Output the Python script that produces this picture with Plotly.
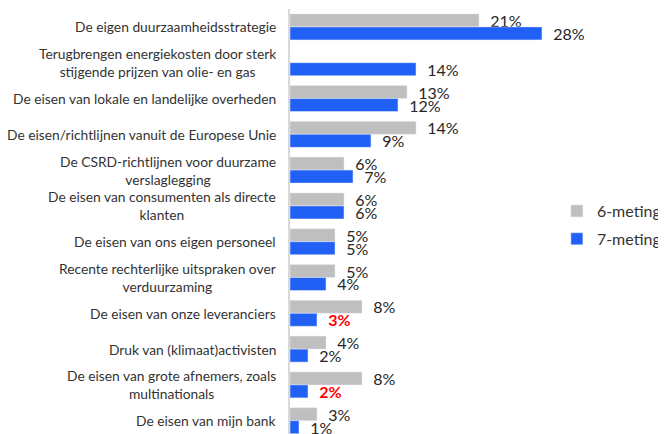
import plotly.graph_objects as go

categories = [
    "De eigen duurzaamheidsstrategie",
    "Terugbrengen energiekosten door sterk<br>stijgende prijzen van olie- en gas",
    "De eisen van lokale en landelijke overheden",
    "De eisen/richtlijnen vanuit de Europese Unie",
    "De CSRD-richtlijnen voor duurzame<br>verslaglegging",
    "De eisen van consumenten als directe<br>klanten",
    "De eisen van ons eigen personeel",
    "Recente rechterlijke uitspraken over<br>verduurzaming",
    "De eisen van onze leveranciers",
    "Druk van (klimaat)activisten",
    "De eisen van grote afnemers, zoals<br>multinationals",
    "De eisen van mijn bank",
]
meting6 = [21, None, 13, 14, 6, 6, 5, 5, 8, 4, 8, 3]
meting7 = [28, 14, 12, 9, 7, 6, 5, 4, 3, 2, 2, 1]
highlight7 = [False, False, False, False, False, False, False, False, True, False, True, False]

FONT = "Lato"
GRAY = "#bfbfbf"
BLUE = "#2160f5"
NB = "\u00a0\u00a0"

def labels(vals, hl=None):
    out = []
    for i, v in enumerate(vals):
        if v is None:
            out.append("")
        elif hl and hl[i]:
            out.append(NB + "<b>%d%%</b>" % v)
        else:
            out.append(NB + "%d%%" % v)
    return out

fig = go.Figure()
fig.add_trace(go.Bar(
    y=categories, x=meting6, orientation="h", name="6-meting",
    marker=dict(color=GRAY), text=labels(meting6), textposition="outside",
    textfont=dict(family=FONT, size=16, color="#262626"),
    constraintext="none", cliponaxis=False, legendgroup="a",
))
fig.add_trace(go.Bar(
    y=categories, x=meting7, orientation="h", name="7-meting",
    marker=dict(color=BLUE), text=labels(meting7, highlight7), textposition="outside",
    textfont=dict(family=FONT, size=16,
                  color=["#ff0000" if h else "#262626" for h in highlight7]),
    constraintext="none", cliponaxis=False, legendgroup="b",
))

for c in categories:
    fig.add_annotation(x=0, xref="paper", y=c, yref="y", text=c, showarrow=False,
                       xanchor="right", align="center", xshift=-12,
                       font=dict(family=FONT, size=13.8, color="#333333"))

fig.update_layout(
    width=666, height=434,
    margin=dict(l=282, r=0, t=1, b=0, autoexpand=False),
    paper_bgcolor="white", plot_bgcolor="white",
    barmode="group", bargap=0.274, bargroupgap=0,
    showlegend=True,
    legend=dict(x=0.695, xanchor="left", y=0.501, yanchor="middle",
                traceorder="grouped", tracegroupgap=4,
                font=dict(family=FONT, size=16, color="#333333"),
                bgcolor="rgba(0,0,0,0)"),
    xaxis=dict(range=[0, 42.67], showgrid=False, zeroline=False,
               showticklabels=False, showline=False),
    yaxis=dict(type="category", categoryorder="array", categoryarray=categories,
               range=[11.595, -0.5], showticklabels=False, showgrid=False,
               showline=True, linecolor="#d9d9d9", linewidth=2, ticks=""),
)

fig.write_html("out.html")
